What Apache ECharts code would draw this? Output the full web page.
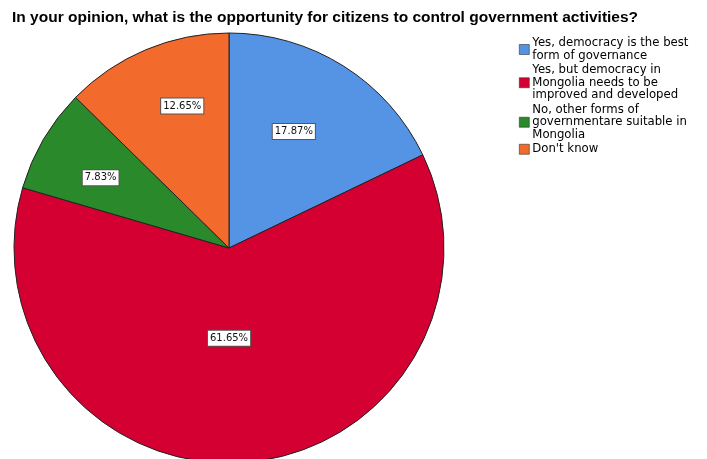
<!DOCTYPE html>
<html>
<head>
<meta charset="utf-8">
<style>
  html, body { margin: 0; padding: 0; background: #fff; }
  #chart { width: 707px; height: 459px; }
</style>
<script src="https://cdn.jsdelivr.net/npm/echarts@6/dist/echarts.min.js"></script>
</head>
<body>
<div id="chart"></div>
<script>
// Survey answers (legend text, wrapped as shown in the legend)
var categories = [
  'Yes, democracy is the best\nform of governance',
  'Yes, but democracy in\nMongolia needs to be\nimproved and developed',
  'No, other forms of\ngovernmentare suitable in\nMongolia',
  "Don't know"
];
// Share of respondents, percent
var shares = [17.87, 61.65, 7.83, 12.65];
var sliceColors = ['#5593E4', '#D50032', '#2A8A2B', '#F26B2C'];
// Small nudges of each percentage box away from the default inside spot
var labelNudge = [[6, -23], [-9, -20], [-33, -14.5], [-4, -40]];

var chart = echarts.init(document.getElementById('chart'));

var pieData = categories.map(function (name, i) {
  return { name: name, value: shares[i], itemStyle: { color: sliceColors[i] } };
});

chart.setOption({
  animation: false,
  title: {
    text: 'In your opinion, what is the opportunity for citizens to control government activities?',
    left: 7,
    top: 5,
    textStyle: {
      fontFamily: 'Liberation Sans',
      fontWeight: 'bold',
      fontSize: 15.5,
      color: '#000'
    }
  },
  legend: {
    orient: 'vertical',
    left: 514,
    top: 32,
    itemWidth: 10,
    itemHeight: 10,
    itemGap: 2,
    icon: 'rect',
    selectedMode: false,
    data: categories,
    itemStyle: { borderColor: '#333', borderWidth: 0.6 },
    textStyle: {
      fontFamily: 'DejaVu Sans',
      fontSize: 11.7,
      lineHeight: 12.5,
      color: '#000',
      padding: [0, 0, 0, -2]
    }
  },
  series: [{
    type: 'pie',
    center: [229, 248],
    radius: [0, 215],
    startAngle: 90,
    clockwise: true,
    avoidLabelOverlap: false,
    data: pieData,
    itemStyle: { borderColor: '#222', borderWidth: 1 },
    emphasis: { disabled: true },
    labelLine: { show: false },
    label: {
      show: true,
      position: 'inside',
      formatter: function (p) { return p.value.toFixed(2) + '%'; },
      fontFamily: 'DejaVu Sans',
      fontSize: 10,
      color: '#111',
      backgroundColor: '#fff',
      borderColor: '#555',
      borderWidth: 1,
      padding: [3, 2, 2, 2]
    },
    labelLayout: function (params) {
      var n = labelNudge[params.dataIndex];
      return { dx: n[0], dy: n[1] };
    }
  }]
});
</script>
</body>
</html>
